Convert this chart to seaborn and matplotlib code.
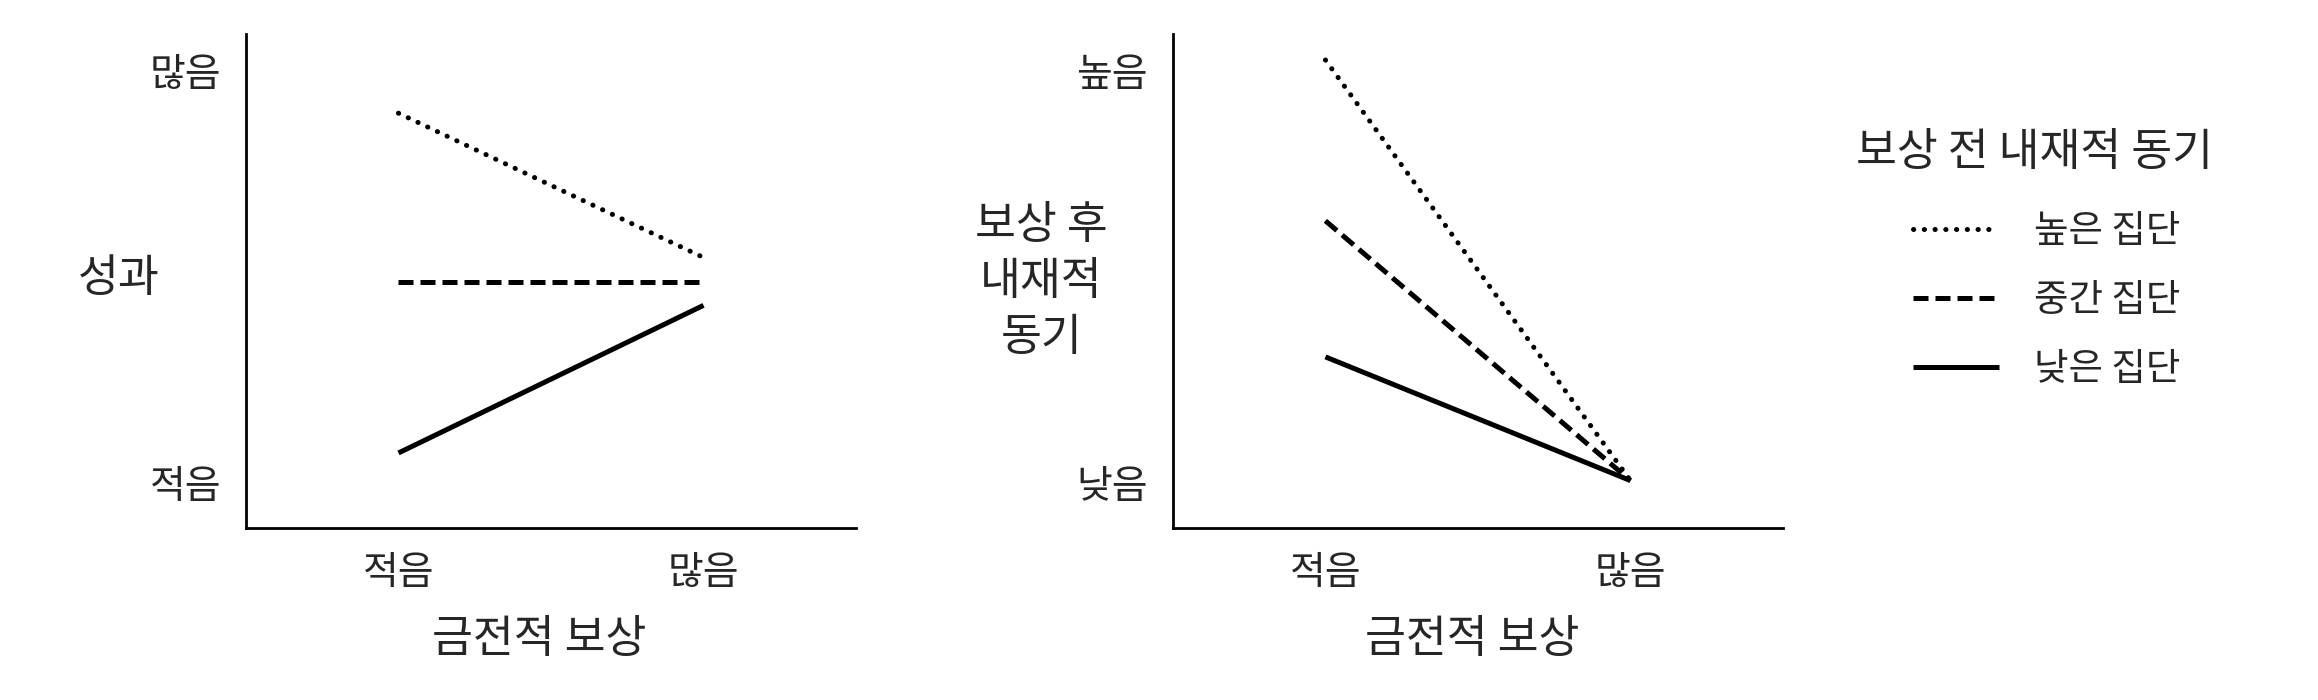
import numpy as np
import pandas as pd
import matplotlib
matplotlib.use("Agg")
import matplotlib.pyplot as plt
from matplotlib.lines import Line2D
import seaborn as sns

# data
reward_x = [0, 1]
reward_labels = ["적음", "많음"]
groups = ["높은 집단", "중간 집단", "낮은 집단"]

# left panel: 성과 (0 = 적음, 1 = 많음)
perf_high = [0.896, 0.546]
perf_mid = [0.487, 0.487]
perf_low = [0.072, 0.43]
perf_ticks = ["적음", "많음"]

# right panel: 보상 후 내재적 동기 (0 = 낮음, 1 = 높음)
motiv_high = [1.025, 0.005]
motiv_mid = [0.635, 0.005]
motiv_low = [0.305, 0.005]
motiv_ticks = ["낮음", "높음"]

sns.set_style("white")
plt.rcParams["font.family"] = ["Noto Sans CJK KR", "DejaVu Sans"]

LW = 3.6
styles = {
    "높은 집단": dict(linestyle=(0, (0.05, 2.1)), linewidth=LW,
                   dash_capstyle="round"),
    "중간 집단": dict(linestyle=(0, (3.0, 1.4)), linewidth=LW,
                   dash_capstyle="butt"),
    "낮은 집단": dict(linestyle="-", linewidth=LW, solid_capstyle="butt"),
}

fig = plt.figure(figsize=(23.18, 7), dpi=100)
ax1 = fig.add_axes([0.1061, 0.2457, 0.2632, 0.7057])
ax2 = fig.add_axes([0.5060, 0.2457, 0.2632, 0.7057])


def draw(ax, series, yticks, ylabel, label_x, label_y, xlab_x):
    for g, vals in zip(groups, series):
        df = pd.DataFrame({"x": reward_x, "y": vals})
        sns.lineplot(data=df, x="x", y="y", ax=ax, color="black", **styles[g])
    ax.set_xlim(-0.5, 1.5)
    ax.set_ylim(-0.11, 1.088)
    ax.set_xticks(reward_x)
    ax.set_xticklabels(reward_labels, fontsize=28)
    ax.set_yticks([0, 1])
    ax.set_yticklabels(yticks, fontsize=28)
    ax.tick_params(axis="x", length=0, pad=18)
    ax.tick_params(axis="y", length=0, pad=18)
    sns.despine(ax=ax)
    for s in ["left", "bottom"]:
        ax.spines[s].set_linewidth(2.0)
        ax.spines[s].set_color("black")
    ax.set_xlabel("금전적 보상", fontsize=32)
    ax.xaxis.set_label_coords(xlab_x, -0.178)
    ax.set_ylabel(ylabel, fontsize=32, rotation=0, ha="center", va="center",
                  linespacing=1.28)
    ax.yaxis.set_label_coords(label_x, label_y)


draw(ax1, [perf_high, perf_mid, perf_low], perf_ticks, "성과",
     -0.208, 0.506, 0.48)
draw(ax2, [motiv_high, motiv_mid, motiv_low], motiv_ticks,
     "보상 후\n내재적\n동기", -0.216, 0.50, 0.49)

# legend: title as figure text, entries as legend
fig.text(2035 / 2318, 1 - 152 / 700, "보상 전 내재적 동기", fontsize=32,
         ha="center", va="center")
handles = [Line2D([0], [0], color="black", **styles[g]) for g in groups]
fig.legend(handles, groups, loc="upper left",
           bbox_to_anchor=(1913 / 2318, 1 - 212 / 700),
           frameon=False, fontsize=27,
           handlelength=2.3, handletextpad=0.93, labelspacing=0.8,
           borderpad=0, borderaxespad=0)

fig.savefig("out.png", dpi=100)
